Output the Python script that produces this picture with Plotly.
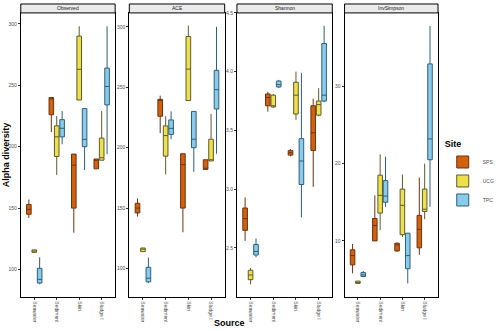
import plotly.graph_objects as go

sources = ["Seawater", "Sediment", "Skin", "Sludge I"]
sites = ["SPS", "UCG", "TPC"]
metrics = ["Observed", "ACE", "Shannon", "InvSimpson"]

# per metric, per site: [lower, q1, median, q3, upper] for each source
data = {
    "Observed": {
        "SPS": {"low": [142, 212, 130, 182], "q1": [145, 226, 150, 182], "med": [149, 239, 185, 189], "q3": [153, 240, 194, 190], "up": [157, 240, 194, 190]},
        "UCG": {"low": [114, 177, 238, 189], "q1": [114, 192, 238, 189], "med": [115, 208, 263, 191], "q3": [116, 217, 290, 207], "up": [116, 225, 298, 229]},
        "TPC": {"low": [88, 202, 181, 194], "q1": [89, 208, 200, 234], "med": [92, 215, 206, 249], "q3": [101, 222, 231, 264], "up": [110, 229, 231, 298]},
    },
    "ACE": {
        "SPS": {"low": [143, 212, 130, 182], "q1": [146, 226, 150, 182], "med": [150, 239, 186, 183], "q3": [154, 240, 195, 190], "up": [158, 243, 195, 190]},
        "UCG": {"low": [114, 178, 239, 189], "q1": [114, 193, 239, 189], "med": [116, 210, 265, 190], "q3": [117, 218, 292, 207], "up": [117, 226, 301, 228]},
        "TPC": {"low": [88, 207, 180, 195], "q1": [89, 211, 200, 232], "med": [92, 216, 207, 248], "q3": [101, 223, 230, 264], "up": [109, 230, 230, 300]},
    },
    "Shannon": {
        "SPS": {"low": [2.56, 3.66, 3.28, 3.02], "q1": [2.65, 3.71, 3.29, 3.33], "med": [2.75, 3.78, 3.31, 3.48], "q3": [2.84, 3.81, 3.33, 3.71], "up": [2.93, 3.83, 3.34, 3.77]},
        "UCG": {"low": [2.19, 3.69, 3.59, 3.62], "q1": [2.23, 3.70, 3.64, 3.63], "med": [2.27, 3.71, 3.80, 3.72], "q3": [2.31, 3.80, 3.91, 3.75], "up": [2.33, 3.81, 4.00, 3.86]},
        "TPC": {"low": [2.42, 3.86, 2.76, 3.74], "q1": [2.44, 3.87, 3.04, 3.75], "med": [2.47, 3.89, 3.24, 3.80], "q3": [2.53, 3.92, 3.43, 4.24], "up": [2.58, 3.93, 3.99, 4.39]},
    },
    "InvSimpson": {
        "SPS": {"low": [5.8, 10.0, 8.6, 8.2], "q1": [6.9, 10.0, 8.7, 9.1], "med": [8.1, 12.0, 9.5, 11.5], "q3": [8.85, 12.9, 9.7, 13.3], "up": [9.6, 15.9, 9.8, 18.2]},
        "UCG": {"low": [4.5, 11.4, 10.5, 12.8], "q1": [4.5, 13.6, 10.8, 13.8], "med": [4.6, 15.9, 14.6, 14.1], "q3": [4.8, 18.5, 16.7, 16.7], "up": [4.8, 21.2, 18.6, 20.0]},
        "TPC": {"low": [5.3, 14.4, 4.5, 14.4], "q1": [5.4, 15.0, 6.4, 20.5], "med": [5.6, 15.8, 8.1, 23.2], "q3": [5.9, 17.8, 11.0, 32.9], "up": [6.1, 20.9, 11.0, 37.8]},
    },
}

y_ranges = {"Observed": [77.4, 308.9], "ACE": [76.2, 311.5], "Shannon": [2.08, 4.5], "InvSimpson": [2.7, 39.5]}
y_ticks = {"Observed": [100, 150, 200, 250, 300], "ACE": [100, 150, 200, 250, 300],
           "Shannon": [2.5, 3.0, 3.5, 4.0, 4.5], "InvSimpson": [10, 20, 30]}
y_formats = {"Observed": "d", "ACE": "d", "Shannon": ".1f", "InvSimpson": "d"}

fills = {"SPS": "#D2600C", "UCG": "#EEE04A", "TPC": "#8ACBEA"}
lines = {"SPS": "#6A3310", "UCG": "#5E5A30", "TPC": "#2E5E7A"}

W, H = 500, 331
x_px = [(22, 122), (137, 238), (251, 352), (365, 464)]
y_top, y_bot = 10, 297

fig = go.Figure()
layout = dict(
    width=W, height=H, margin=dict(l=0, r=0, t=0, b=0),
    paper_bgcolor="white", plot_bgcolor="white",
    boxmode="group", boxgap=0.28, boxgroupgap=0.15,
    font=dict(family="Liberation Sans, Arial", size=5, color="#4D4D4D"),
    showlegend=True,
)
shapes = []
annotations = []
for i, m in enumerate(metrics):
    ax = "" if i == 0 else str(i + 1)
    xa = dict(domain=[x_px[i][0] / W, x_px[i][1] / W], range=[-0.6, 3.6],
              type="category", categoryorder="array", categoryarray=sources,
              tickangle=90, ticks="outside", ticklen=2, tickcolor="#333333",
              tickfont=dict(size=5, color="#4D4D4D"), showgrid=False, zeroline=False,
              showline=True, linecolor="black", linewidth=1, mirror=True,
              anchor="y" + ax)
    ya = dict(domain=[1 - y_bot / H, 1 - y_top / H], range=y_ranges[m],
              tickvals=y_ticks[m], tickformat=y_formats[m],
              ticks="outside", ticklen=2, tickcolor="#333333",
              tickfont=dict(size=5, color="#4D4D4D"), showgrid=False, zeroline=False,
              showline=True, linecolor="black", linewidth=1, mirror=True,
              anchor="x" + ax)
    layout["xaxis" + ax] = xa
    layout["yaxis" + ax] = ya
    for s in sites:
        d = data[m][s]
        fig.add_trace(go.Box(
            x=sources, q1=d["q1"], median=d["med"], q3=d["q3"],
            lowerfence=d["low"], upperfence=d["up"],
            name=s, legendgroup=s, showlegend=(i == 0),
            offsetgroup=s, alignmentgroup=m,
            fillcolor=fills[s], line=dict(color=lines[s], width=1),
            whiskerwidth=0, boxpoints=False,
            xaxis="x" + ax, yaxis="y" + ax,
        ))
    shapes.append(dict(type="rect", xref="paper", yref="paper",
                       x0=x_px[i][0] / W, x1=x_px[i][1] / W,
                       y0=1 - y_top / H, y1=1 - 1 / H,
                       fillcolor="#EBEBEB", line=dict(color="black", width=1)))
    annotations.append(dict(text=m, xref="paper", yref="paper",
                            x=(x_px[i][0] + x_px[i][1]) / 2 / W, y=1 - 5 / H,
                            showarrow=False, font=dict(size=5, color="#1A1A1A"),
                            xanchor="center", yanchor="middle"))

annotations.append(dict(text="<b>Alpha diversity</b>", xref="paper", yref="paper",
                        x=6 / W, y=1 - 153 / H, textangle=-90, showarrow=False,
                        font=dict(size=9, color="black"), xanchor="center", yanchor="middle"))
annotations.append(dict(text="<b>Source</b>", xref="paper", yref="paper",
                        x=243 / W, y=1 - 323 / H, showarrow=False,
                        font=dict(size=9, color="black"), xanchor="center", yanchor="middle"))

layout["shapes"] = shapes
layout["annotations"] = annotations
layout["legend"] = dict(x=469 / W, y=1 - 134 / H, xanchor="left", yanchor="top",
                        title=dict(text="<b>Site</b>", font=dict(size=9, color="black")),
                        font=dict(size=5, color="#4D4D4D"), tracegroupgap=0,
                        itemwidth=30, bgcolor="rgba(0,0,0,0)")
fig.update_layout(**layout)
fig.write_html("out.html")
